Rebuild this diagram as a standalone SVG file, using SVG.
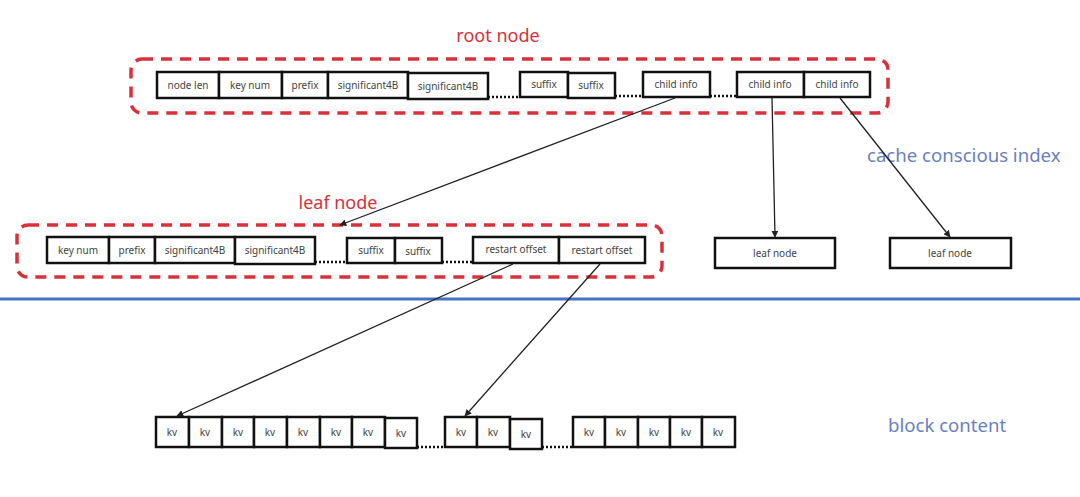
<svg xmlns="http://www.w3.org/2000/svg" width="1080" height="497" viewBox="0 0 1080 497">
<style>
.cell{fill:#fff;stroke:#111;stroke-width:2.5}
.ct{font-family:"Noto Sans","Liberation Sans",sans-serif;font-size:10px;fill:#444;text-anchor:middle}
.grp{fill:none;stroke:#d9303a;stroke-width:3.5;stroke-dasharray:11 8}
.red{font-family:"Noto Sans","Liberation Sans",sans-serif;font-size:18px;fill:#d9303a;text-anchor:middle}
.blue{font-family:"Noto Sans","Liberation Sans",sans-serif;font-size:18.6px;fill:#6a7fbf}
.dots{stroke:#111;stroke-width:2.5;stroke-dasharray:2 2}
.conn{stroke:#222;stroke-width:1.3;fill:none;marker-end:url(#ah)}
</style>
<defs>
<marker id="ah" viewBox="0 0 10 10" refX="9" refY="5" markerWidth="7" markerHeight="7" orient="auto" markerUnits="userSpaceOnUse">
<path d="M0,0 L10,5 L0,10 z" fill="#222"/>
</marker>
</defs>
<rect width="1080" height="497" fill="#fff"/>

<g id="root-node">
<rect class="grp" x="131" y="59" width="757" height="54" rx="11"/>
<text class="red" x="498" y="42">root node</text>
<rect class="cell" x="157" y="72" width="62" height="26"/><text class="ct" x="188" y="89">node len</text>
<rect class="cell" x="219" y="72" width="63" height="26"/><text class="ct" x="250" y="89">key num</text>
<rect class="cell" x="282" y="72" width="46" height="26"/><text class="ct" x="305" y="89">prefix</text>
<rect class="cell" x="328" y="72" width="80" height="26"/><text class="ct" x="368" y="89">significant4B</text>
<rect class="cell" x="408" y="73" width="80" height="26"/><text class="ct" x="448" y="90">significant4B</text>
<line class="dots" x1="488" y1="97" x2="520" y2="97"/>
<rect class="cell" x="520" y="72" width="48" height="25"/><text class="ct" x="544" y="88">suffix</text>
<rect class="cell" x="568" y="73" width="47" height="25"/><text class="ct" x="591" y="89">suffix</text>
<line class="dots" x1="615" y1="96" x2="643" y2="96"/>
<rect class="cell" x="643" y="72" width="67" height="25"/><text class="ct" x="676" y="88">child info</text>
<line class="dots" x1="710" y1="96" x2="737" y2="96"/>
<rect class="cell" x="737" y="72" width="67" height="25"/><text class="ct" x="770" y="88">child info</text>
<rect class="cell" x="804" y="72" width="66" height="25"/><text class="ct" x="837" y="88">child info</text>
</g>

<g id="leaf-node-expanded">
<rect class="grp" x="17" y="225" width="645" height="52" rx="11"/>
<text class="red" x="338" y="209">leaf node</text>
<rect class="cell" x="47" y="237" width="62" height="26"/><text class="ct" x="78" y="254">key num</text>
<rect class="cell" x="109" y="237" width="46" height="26"/><text class="ct" x="132" y="254">prefix</text>
<rect class="cell" x="155" y="237" width="80" height="26"/><text class="ct" x="195" y="254">significant4B</text>
<rect class="cell" x="235" y="237" width="80" height="27"/><text class="ct" x="275" y="254">significant4B</text>
<line class="dots" x1="315" y1="262" x2="347" y2="262"/>
<rect class="cell" x="347" y="238" width="48" height="25"/><text class="ct" x="371" y="254">suffix</text>
<rect class="cell" x="395" y="238" width="47" height="25"/><text class="ct" x="418" y="255">suffix</text>
<line class="dots" x1="442" y1="262" x2="473" y2="262"/>
<rect class="cell" x="473" y="237" width="86" height="26"/><text class="ct" x="516" y="253">restart offset</text>
<rect class="cell" x="559" y="237" width="86" height="26"/><text class="ct" x="602" y="254">restart offset</text>
</g>

<g id="leaf-node-2">
<rect class="cell" x="715" y="238" width="120" height="30"/><text class="ct" x="775" y="257">leaf node</text>
</g>
<g id="leaf-node-3">
<rect class="cell" x="890" y="238" width="121" height="30"/><text class="ct" x="950" y="257">leaf node</text>
</g>

<g id="divider">
<line x1="0" y1="299" x2="1080" y2="299" stroke="#4472c4" stroke-width="3"/>
</g>
<g id="label-cache">
<text class="blue" x="867" y="162">cache conscious index</text>
</g>
<g id="label-block">
<text class="blue" x="888" y="432">block content</text>
</g>

<g id="block-content">
<rect class="cell" x="156" y="417" width="33" height="30"/><text class="ct" x="172" y="436">kv</text>
<rect class="cell" x="189" y="417" width="33" height="30"/><text class="ct" x="205" y="436">kv</text>
<rect class="cell" x="222" y="417" width="32" height="30"/><text class="ct" x="238" y="436">kv</text>
<rect class="cell" x="254" y="417" width="33" height="30"/><text class="ct" x="270" y="436">kv</text>
<rect class="cell" x="287" y="417" width="33" height="30"/><text class="ct" x="303" y="436">kv</text>
<rect class="cell" x="320" y="417" width="32" height="30"/><text class="ct" x="336" y="436">kv</text>
<rect class="cell" x="352" y="417" width="33" height="30"/><text class="ct" x="368" y="436">kv</text>
<rect class="cell" x="385" y="418" width="32" height="30"/><text class="ct" x="401" y="437">kv</text>
<line class="dots" x1="417" y1="447" x2="445" y2="447"/>
<rect class="cell" x="445" y="417" width="32" height="30"/><text class="ct" x="461" y="436">kv</text>
<rect class="cell" x="477" y="417" width="33" height="30"/><text class="ct" x="493" y="436">kv</text>
<rect class="cell" x="510" y="419" width="32" height="30"/><text class="ct" x="526" y="438">kv</text>
<line class="dots" x1="542" y1="447" x2="573" y2="447"/>
<rect class="cell" x="573" y="417" width="32" height="30"/><text class="ct" x="589" y="436">kv</text>
<rect class="cell" x="605" y="417" width="33" height="30"/><text class="ct" x="621" y="436">kv</text>
<rect class="cell" x="638" y="417" width="32" height="30"/><text class="ct" x="654" y="436">kv</text>
<rect class="cell" x="670" y="417" width="32" height="30"/><text class="ct" x="686" y="436">kv</text>
<rect class="cell" x="702" y="417" width="33" height="30"/><text class="ct" x="718" y="436">kv</text>
</g>

<g id="connectors">
<line class="conn" x1="675" y1="98" x2="340" y2="225"/>
<line class="conn" x1="772" y1="98" x2="775" y2="237"/>
<line class="conn" x1="840" y1="98" x2="950" y2="237"/>
<line class="conn" x1="513" y1="264" x2="177" y2="416"/>
<line class="conn" x1="600" y1="264" x2="465" y2="416"/>
</g>
</svg>
